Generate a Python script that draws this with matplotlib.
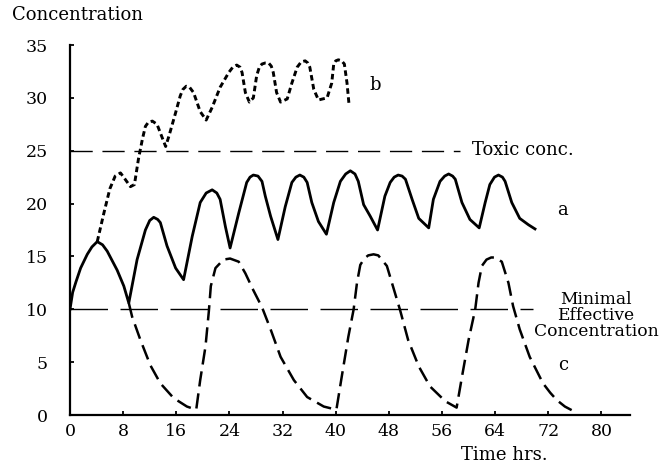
import matplotlib
matplotlib.use("Agg")
import matplotlib.pyplot as plt

# Curve a: solid, therapeutic dosing
a_t = [0, 0.4, 0.9, 1.6, 2.6, 3.3, 4.1, 4.9, 5.6, 7.1, 8.1, 8.85,
       10.1, 11.35, 12.0, 12.6, 13.2, 13.6, 14.6, 15.9, 17.1,
       18.4, 19.6, 20.5, 21.4, 22.1, 22.6, 23.4, 24.1,
       25.4, 26.6, 27.1, 27.6, 28.3, 28.9, 29.4, 30.2, 31.3,
       32.4, 33.4, 34.0, 34.6, 35.2, 35.7, 36.4, 37.4, 38.6,
       39.7, 40.7, 41.5, 42.2, 42.9, 43.4, 44.2, 45.2, 46.3,
       47.4, 48.2, 48.8, 49.4, 50.0, 50.5, 51.5, 52.5, 54.0,
       54.7, 55.7, 56.4, 57.0, 57.6, 58.0, 59.0, 60.2, 61.6,
       62.5, 63.2, 63.9, 64.5, 65.1, 65.5, 66.5, 67.7, 69.0, 70.0]
a_c = [10.0, 11.6, 12.6, 13.9, 15.2, 15.9, 16.4, 16.1, 15.5, 13.7, 12.2, 10.6,
       14.7, 17.5, 18.4, 18.7, 18.5, 18.2, 16.0, 13.9, 12.8,
       16.9, 20.1, 21.0, 21.3, 21.0, 20.4, 17.8, 15.8,
       19.1, 22.0, 22.5, 22.7, 22.6, 22.1, 20.7, 18.8, 16.6,
       19.7, 22.0, 22.5, 22.7, 22.5, 22.0, 20.1, 18.3, 17.1,
       20.1, 22.1, 22.8, 23.1, 22.8, 22.1, 19.9, 18.8, 17.5,
       20.7, 22.0, 22.5, 22.7, 22.6, 22.3, 20.4, 18.6, 17.7,
       20.4, 22.1, 22.6, 22.8, 22.6, 22.3, 20.1, 18.5, 17.7,
       20.1, 21.8, 22.5, 22.7, 22.5, 22.1, 20.1, 18.6, 18.0, 17.6]

# Curve b: short dashes, overdosing
b_t = [4.1, 5.1, 6.0, 6.8, 7.6, 8.3, 9.1, 9.7, 10.3, 10.9, 11.35, 11.8,
       12.4, 13.1, 13.9, 14.4, 14.9, 15.9, 16.6, 17.0, 17.5, 18.0,
       18.6, 19.6, 20.5, 21.4, 22.6, 23.9, 24.5, 25.1, 25.6, 25.9,
       26.4, 27.0, 27.6, 28.1, 28.5, 28.9, 29.4, 29.9, 30.3, 30.6,
       31.1, 31.7, 32.7, 33.4, 34.2, 34.8, 35.4, 35.8, 36.1, 36.7,
       37.4, 38.7, 39.4, 39.7, 40.0, 40.4, 40.9, 41.3, 41.7, 42.0]
b_c = [16.4, 19.1, 21.4, 22.6, 22.9, 22.3, 21.6, 21.8, 24.2, 26.1, 27.3, 27.7,
       27.8, 27.5, 26.2, 25.4, 26.4, 28.6, 30.2, 30.8, 31.1, 31.0,
       30.5, 28.7, 27.9, 29.1, 31.0, 32.4, 32.9, 33.1, 32.9, 32.4,
       30.5, 29.6, 30.0, 32.1, 32.9, 33.2, 33.3, 33.3, 33.0, 32.4,
       30.5, 29.6, 29.9, 31.4, 32.9, 33.4, 33.5, 33.3, 32.9, 30.8,
       29.8, 30.0, 31.4, 33.2, 33.5, 33.6, 33.5, 33.2, 31.4, 29.4]

# Curve c: long dashes, underdosing
c_t = [8.85, 9.35, 10.6, 12.1, 13.6, 15.6, 17.6, 19.0,
       19.6, 20.4, 20.9, 21.2, 21.9, 23.1, 24.1, 25.4, 26.4, 27.6, 28.9,
       30.2, 31.7, 33.7, 35.7, 38.2, 40.1,
       40.9, 41.9, 42.7, 43.2, 43.7, 44.3, 44.9, 45.7, 46.4, 47.7, 48.7,
       49.7, 50.9, 52.5, 54.2, 56.5, 58.2,
       59.0, 60.0, 61.0, 61.5, 62.0, 62.7, 63.4, 64.0, 65.0, 66.0, 66.7,
       67.7, 69.2, 71.2, 72.3, 73.3, 74.5, 76.3]
c_c = [10.6, 9.3, 7.1, 4.7, 3.0, 1.6, 0.8, 0.5,
       3.3, 6.5, 9.8, 12.2, 13.9, 14.7, 14.8, 14.5, 13.4, 11.8, 10.2,
       8.1, 5.5, 3.3, 1.7, 0.8, 0.5,
       3.6, 7.4, 10.0, 12.5, 14.2, 14.8, 15.1, 15.2, 15.1, 14.1, 12.0,
       9.9, 7.1, 4.6, 2.7, 1.3, 0.7,
       3.6, 7.1, 10.0, 12.5, 14.1, 14.7, 14.9, 14.9, 14.5, 12.5, 10.3,
       8.1, 5.5, 3.0, 2.1, 1.4, 0.8, 0.2]

toxic_level = 25
mec_level = 10
x_ticks = [0, 8, 16, 24, 32, 40, 48, 56, 64, 72, 80]
y_ticks = [0, 5, 10, 15, 20, 25, 30, 35]

plt.rcParams["font.family"] = ["DejaVu Serif"]
plt.rcParams["lines.scale_dashes"] = False

fig = plt.figure(figsize=(6.69, 4.67), dpi=100)
ax = fig.add_axes([70 / 669, 52 / 467, 560 / 669, 370 / 467])

# reference levels
ax.plot([0, 58.7], [toxic_level, toxic_level], color="black", lw=1.0,
        dashes=(16, 7))
ax.plot([0, 69.7], [mec_level, mec_level], color="black", lw=1.0,
        dashes=(27, 9))

ax.plot(a_t, a_c, color="black", lw=2.0, solid_joinstyle="round")
ax.plot(b_t, b_c, color="black", lw=2.1, dashes=(4, 2.5))
ax.plot(c_t, c_c, color="black", lw=1.8, dashes=(11, 5))

ax.set_xlim(0, 84.3)
ax.set_ylim(0, 35)
ax.set_xticks(x_ticks)
ax.set_yticks(y_ticks)
for s in ["top", "right"]:
    ax.spines[s].set_visible(False)
for s in ["left", "bottom"]:
    ax.spines[s].set_linewidth(1.6)
ax.tick_params(axis="both", direction="in", length=3, width=1.3, labelsize=12.5)
ax.tick_params(axis="y", pad=16)
ax.tick_params(axis="x", pad=6)

# labels on the curves
ax.text(60.5, 25.1, "Toxic conc.", fontsize=13, ha="left", va="center")
ax.text(45.9, 31.2, "b", fontsize=13, ha="center", va="center")
ax.text(74.1, 19.4, "a", fontsize=13, ha="center", va="center")
ax.text(74.2, 4.7, "c", fontsize=13, ha="center", va="center")
ax.text(79.2, 9.4, "Minimal\nEffective\nConcentration", fontsize=12.3,
        ha="center", va="center", linespacing=0.95, clip_on=False)

fig.text(12 / 669, 1 - 15 / 467, "Concentration", fontsize=13,
         ha="left", va="center")
fig.text(504 / 669, 1 - 455 / 467, "Time hrs.", fontsize=13,
         ha="center", va="center")

fig.savefig("out.png", dpi=100)
